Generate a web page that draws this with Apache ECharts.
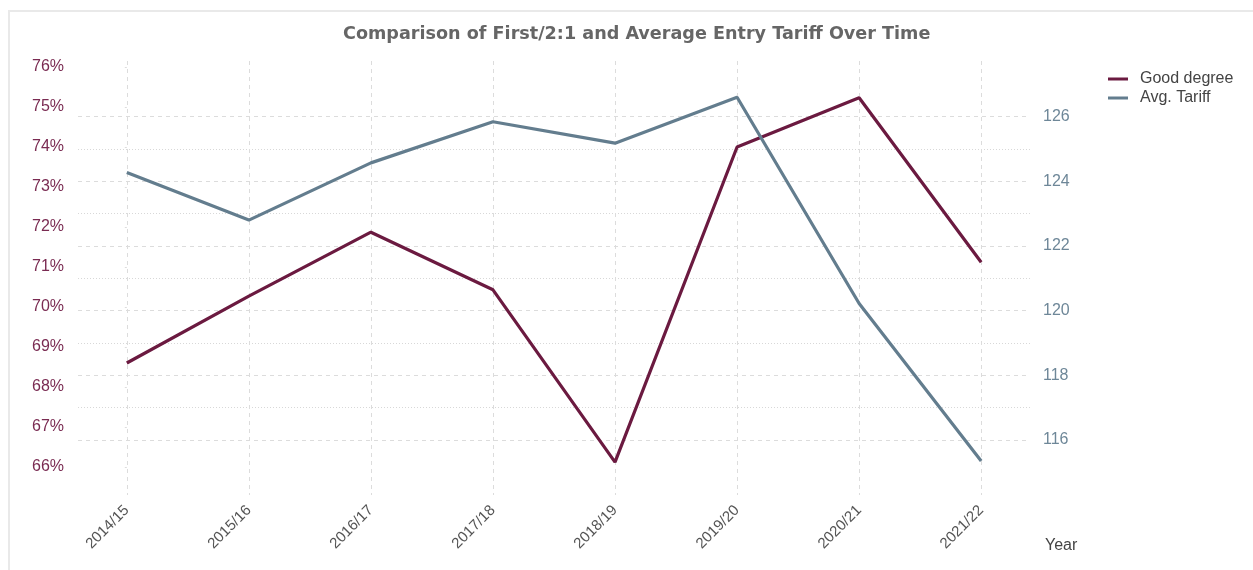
<!DOCTYPE html>
<html>
<head>
<meta charset="utf-8">
<script src="https://cdn.jsdelivr.net/npm/echarts@6/dist/echarts.min.js"></script>
<style>
html,body{margin:0;padding:0;background:#fff;}
#frame{position:absolute;left:8px;top:10px;width:1300px;height:600px;border-top:2px solid #e9e9e9;border-left:2px solid #e9e9e9;}
#chart{position:absolute;left:0;top:0;width:1253px;height:570px;}
</style>
</head>
<body>
<div id="frame"></div>
<div id="chart"></div>
<script>
const categories = ['2014/15','2015/16','2016/17','2017/18','2018/19','2019/20','2020/21','2021/22'];
const goodDegree = [68.6, 70.27, 71.87, 70.43, 66.12, 74.0, 75.23, 71.12];
const avgTariff = [124.27, 122.8, 124.57, 125.84, 125.18, 126.6, 120.22, 115.35];
const pctTicks = [66,67,68,69,70,71,72,73,74,75,76];
const tariffTicks = [116,118,120,122,124,126];
const tariffMinorTicks = [117,119,121,123,125];
const catIndex = categories.map((c,i)=>i);

const chart = echarts.init(document.getElementById('chart'));
chart.setOption({
  animation:false,
  title:{
    text:'Comparison of First/2:1 and Average Entry Tariff Over Time',
    left:338, top:20,
    textStyle:{fontFamily:'DejaVu Sans', fontWeight:'bold', fontSize:17.6, color:'#666'}
  },
  legend:{
    orient:'vertical', left:1103, top:66, itemWidth:20, itemHeight:3, itemGap:3,
    icon:'rect',
    textStyle:{fontFamily:'Liberation Sans', fontSize:16, color:'#444', padding:[0,0,0,7]},
    data:['Good degree','Avg. Tariff']
  },
  grid:{left:78, right:223, top:61, bottom:75},
  xAxis:{
    type:'value', min:-0.4, max:7.4,
    name:'Year', nameLocation:'end', nameGap:15,
    nameTextStyle:{fontFamily:'Liberation Sans', fontSize:16, color:'#444', verticalAlign:'top', padding:[43,0,0,0]},
    axisLine:{show:false}, axisTick:{show:false, customValues:catIndex},
    axisLabel:{customValues:catIndex, rotate:45, margin:13, fontFamily:'Liberation Sans', fontSize:15, color:'#555',
      formatter:(v)=>categories[Math.round(v)]},
    splitLine:{show:true, lineStyle:{type:[4,4], color:'#dcdcdc', width:1}}
  },
  yAxis:[
    {type:'value', position:'left', min:65.3, max:76.15,
      axisLine:{show:false},
      axisTick:{show:true, length:2, customValues:pctTicks, lineStyle:{color:'#ddd'}},
      axisLabel:{customValues:pctTicks, margin:14, fontFamily:'Liberation Sans', fontSize:16, color:'#7a2b52', formatter:(v)=>v+'%'},
      splitLine:{show:false}},
    {type:'value', position:'right', min:114.3, max:127.72,
      axisLine:{show:false},
      axisTick:{show:false, customValues:tariffTicks},
      axisLabel:{customValues:tariffTicks, margin:13, fontFamily:'Liberation Sans', fontSize:16, color:'#6e8798'},
      splitLine:{show:true, lineStyle:{type:[4,4], color:'#dcdcdc', width:1}}},
    {type:'value', position:'right', min:114.3, max:127.72,
      axisLine:{show:false},
      axisTick:{show:false, customValues:tariffMinorTicks},
      axisLabel:{show:false, customValues:tariffMinorTicks},
      splitLine:{show:true, lineStyle:{type:[1,2], color:'#d8d8d8', width:1}}}
  ],
  series:[
    {name:'Good degree', type:'line', yAxisIndex:0, showSymbol:false, symbol:'none',
      data:goodDegree.map((v,i)=>[catIndex[i], v]),
      lineStyle:{width:3.2, color:'#6b1a40'}, itemStyle:{color:'#6b1a40'}},
    {name:'Avg. Tariff', type:'line', yAxisIndex:1, showSymbol:false, symbol:'none',
      data:avgTariff.map((v,i)=>[catIndex[i], v]),
      lineStyle:{width:3.2, color:'#637d8e'}, itemStyle:{color:'#637d8e'}}
  ]
});
</script>
</body>
</html>
